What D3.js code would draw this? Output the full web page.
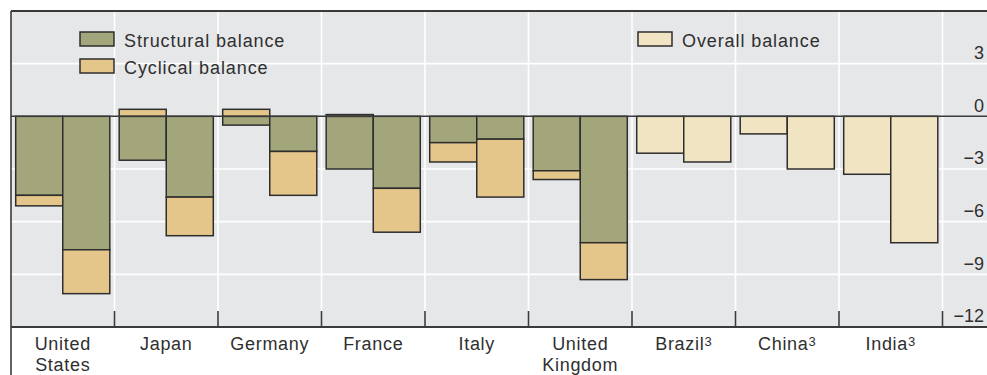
<!DOCTYPE html>
<html>
<head>
<meta charset="utf-8">
<script src="https://cdn.jsdelivr.net/npm/d3@7"></script>
<style>
  html, body { margin: 0; padding: 0; background: #ffffff; }
  svg { display: block; }
  text { font-family: "Liberation Sans", Arial, sans-serif; fill: #2f2f2f; }
</style>
</head>
<body>
<svg id="chart" width="987" height="375"></svg>
<script>
// Fiscal balances by country, percent of GDP (two periods per country)
const countries = ["United States", "Japan", "Germany", "France", "Italy",
                   "United Kingdom", "Brazil", "China", "India"];
const countryLines = [["United", "States"], ["Japan"], ["Germany"], ["France"], ["Italy"],
                      ["United", "Kingdom"], ["Brazil"], ["China"], ["India"]];
const footnoted = ["Brazil", "China", "India"];
const periods = ["first", "second"];

// Advanced economies: structural and cyclical components
const advanced = ["United States", "Japan", "Germany", "France", "Italy", "United Kingdom"];
const structuralFirst  = [-4.5, -2.5, -0.5, -3.0, -1.5, -3.1];
const cyclicalFirst    = [-0.6,  0.4,  0.4,  0.1, -1.1, -0.5];
const structuralSecond = [-7.6, -4.6, -2.0, -4.1, -1.3, -7.2];
const cyclicalSecond   = [-2.5, -2.2, -2.5, -2.5, -3.3, -2.1];

// Emerging economies: overall balance only
const emerging = ["Brazil", "China", "India"];
const overallFirst  = [-2.1, -1.0, -3.3];
const overallSecond = [-2.6, -3.0, -7.2];

const yTicks = [3, 0, -3, -6, -9, -12];

const colors = { structural: "#a3a67a", cyclical: "#e5c68a", overall: "#f1e4c3" };

const svg = d3.select("#chart");
const W = 987, H = 375;
const plotLeft = 11, plotTop = 11, plotBottom = 327, catRight = 942.5;

const x = d3.scaleBand().domain(countries).range([plotLeft, catRight]).padding(0);
const xi = d3.scaleBand().domain(periods).range([0, x.bandwidth()])
  .paddingInner(0).paddingOuter(0.1);
const y = d3.scaleLinear().domain([-12, 6]).range([plotBottom, plotTop]);

// plot background
svg.append("rect").attr("x", plotLeft).attr("y", plotTop)
  .attr("width", W - plotLeft).attr("height", plotBottom - plotTop).attr("fill", "#e6e7e9");

// horizontal gridlines
svg.append("g").selectAll("line").data(yTicks.filter(d => d !== 0 && d !== -12)).join("line")
  .attr("x1", plotLeft).attr("x2", W).attr("y1", d => y(d)).attr("y2", d => y(d))
  .attr("stroke", "#ffffff").attr("stroke-width", 1.6);

// vertical gridlines at category boundaries
const bounds = countries.map(c => x(c) + x.bandwidth());
svg.append("g").selectAll("line").data(bounds).join("line")
  .attr("x1", d => d).attr("x2", d => d).attr("y1", plotTop).attr("y2", plotBottom)
  .attr("stroke", "#ffffff").attr("stroke-width", 1.6);

// build bar segments
const segments = [];
function stack(country, period, structural, cyclical) {
  segments.push({ country, period, kind: "structural", y0: 0, y1: structural });
  if (cyclical >= 0) {
    segments.push({ country, period, kind: "cyclical", y0: 0, y1: cyclical });
  } else {
    segments.push({ country, period, kind: "cyclical", y0: structural, y1: structural + cyclical });
  }
}
advanced.forEach((c, i) => {
  stack(c, "first", structuralFirst[i], cyclicalFirst[i]);
  stack(c, "second", structuralSecond[i], cyclicalSecond[i]);
});
emerging.forEach((c, i) => {
  segments.push({ country: c, period: "first", kind: "overall", y0: 0, y1: overallFirst[i] });
  segments.push({ country: c, period: "second", kind: "overall", y0: 0, y1: overallSecond[i] });
});

svg.append("g").selectAll("rect").data(segments).join("rect")
  .attr("x", d => x(d.country) + xi(d.period))
  .attr("width", xi.bandwidth())
  .attr("y", d => y(Math.max(d.y0, d.y1)))
  .attr("height", d => Math.abs(y(d.y0) - y(d.y1)))
  .attr("fill", d => colors[d.kind])
  .attr("stroke", "#2e2e2e").attr("stroke-width", 1.5);

// zero line
svg.append("line").attr("x1", plotLeft).attr("x2", W).attr("y1", y(0)).attr("y2", y(0))
  .attr("stroke", "#3a3a3a").attr("stroke-width", 1.5);

// y axis labels on the right, sitting just above their gridlines
const yAxis = d3.axisLeft(y).tickValues(yTicks).tickSize(0).tickPadding(0)
  .tickFormat(d => d < 0 ? "\u2212" + Math.abs(d) : String(d));
const gy = svg.append("g").attr("transform", `translate(${984},0)`).call(yAxis);
gy.select(".domain").remove();
gy.selectAll("text").attr("dy", "-0.28em")
  .style("font-family", "'Liberation Sans', Arial, sans-serif")
  .style("font-size", "18px").attr("fill", "#2f2f2f");

// bottom axis line and category tick marks
svg.append("line").attr("x1", plotLeft).attr("x2", W).attr("y1", plotBottom).attr("y2", plotBottom)
  .attr("stroke", "#3a3a3a").attr("stroke-width", 2);
svg.append("g").selectAll("line").data(bounds).join("line")
  .attr("x1", d => d).attr("x2", d => d).attr("y1", plotBottom - 16).attr("y2", plotBottom)
  .attr("stroke", "#3a3a3a").attr("stroke-width", 1.6);

// frame: top rule and left rule
svg.append("line").attr("x1", plotLeft).attr("x2", W).attr("y1", plotTop).attr("y2", plotTop)
  .attr("stroke", "#3a3a3a").attr("stroke-width", 2);
svg.append("line").attr("x1", plotLeft).attr("x2", plotLeft).attr("y1", plotTop).attr("y2", H)
  .attr("stroke", "#3a3a3a").attr("stroke-width", 1.6);

// category labels
const labels = svg.append("g").selectAll("text").data(countries).join("text")
  .attr("text-anchor", "middle")
  .attr("x", d => x(d) + x.bandwidth() / 2)
  .attr("y", 350)
  .style("font-size", "18px").style("letter-spacing", "0.7px");
labels.each(function (d, i) {
  const t = d3.select(this);
  countryLines[i].forEach((ln, j) => {
    t.append("tspan").attr("x", x(d) + x.bandwidth() / 2)
      .attr("dy", j === 0 ? 0 : 21).text(ln);
    if (footnoted.includes(d)) {
      t.append("tspan").attr("dy", -4).style("font-size", "13px").text("3");
    }
  });
});

// legend
const legendItems = [
  { label: "Structural balance", kind: "structural", x: 80, y: 32 },
  { label: "Cyclical balance",   kind: "cyclical",   x: 80, y: 59 },
  { label: "Overall balance",    kind: "overall",    x: 638, y: 32 }
];
const lg = svg.append("g").selectAll("g").data(legendItems).join("g")
  .attr("transform", d => `translate(${d.x},${d.y})`);
lg.append("rect").attr("width", 34).attr("height", 14)
  .attr("fill", d => colors[d.kind]).attr("stroke", "#2e2e2e").attr("stroke-width", 1.5);
lg.append("text").attr("x", 44).attr("y", 14.5)
  .style("font-size", "18px").style("letter-spacing", "0.9px")
  .text(d => d.label);
</script>
</body>
</html>
